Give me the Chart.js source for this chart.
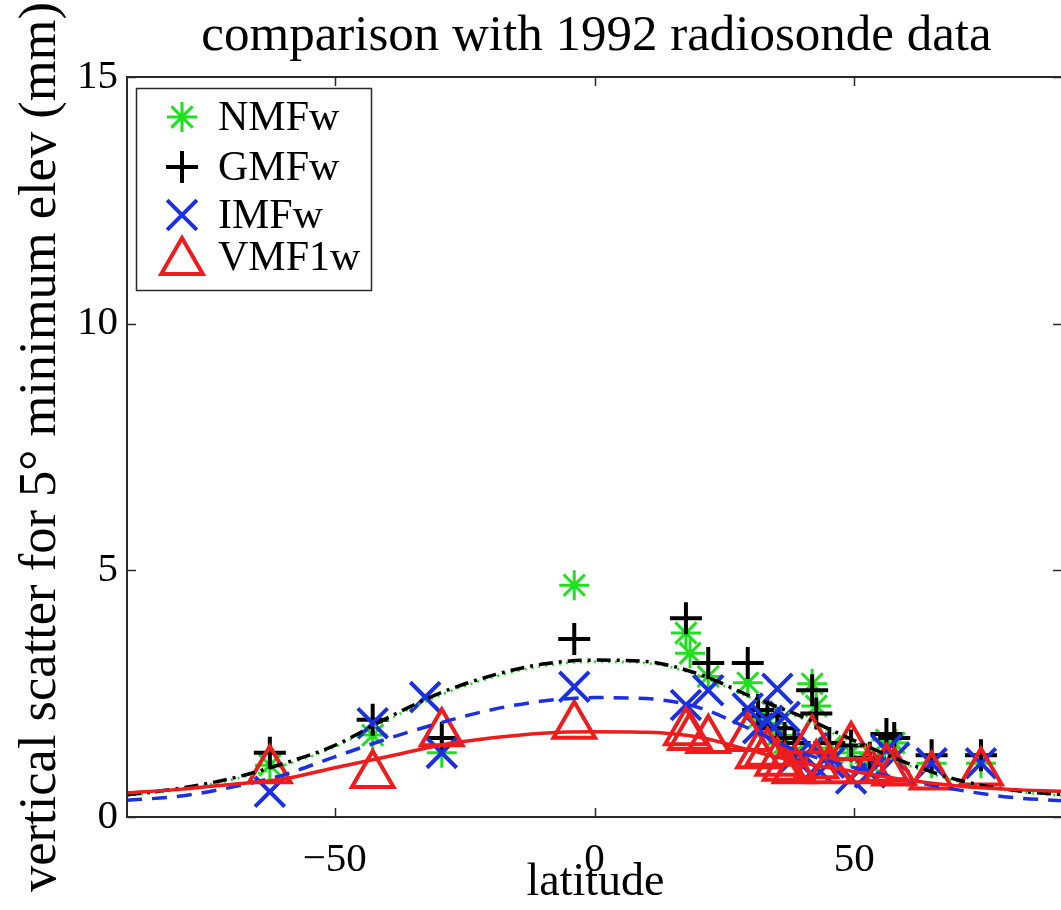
<!DOCTYPE html>
<html>
<head>
<meta charset="utf-8">
<title>comparison with 1992 radiosonde data</title>
<script src="https://cdn.jsdelivr.net/npm/chart.js@4.4.1/dist/chart.umd.min.js"></script>
<style>
  html, body { margin: 0; padding: 0; background: #fff; overflow: hidden; }
  #wrap { width: 1090px; height: 910px; }
</style>
</head>
<body>
<div id="wrap"><canvas id="chart" width="1090" height="910"></canvas></div>
<script>
// station latitudes and scatter per mapping function (null = no marker)
const stationLat = [-62.5, -42.7, -32.6, -29.4, -3.9, 17.6, 18.4, 21.9, 29.5, 31.5, 33.3, 35.2, 36.6, 38.5, 41.9, 42.7, 45.2, 49.4, 53.0, 56.2, 57.7, 64.9, 74.4];
const nmfwScatter  = [1.05, 1.66, null, 1.30, 4.70, 3.73, 3.32, 2.85, 2.72, 2.00, 1.90, 1.65, 1.50, 1.30, 2.70, 2.25, 1.40, 1.30, 1.10, 1.56, 1.50, 1.09, 1.09];
const gmfwScatter  = [1.30, 1.97, null, 1.60, 3.61, 4.03, null, 3.12, 3.12, 2.17, 2.05, 1.80, 1.60, 1.50, 2.57, 2.10, 1.50, 1.45, 1.20, 1.68, 1.60, 1.25, 1.25];
const imfwScatter  = [0.51, 1.90, 2.43, 1.30, 2.64, 2.27, null, 2.57, 2.20, 1.80, 1.95, 2.60, 2.03, 1.20, 1.40, 1.00, 1.10, 0.78, 0.90, 1.36, 1.20, 1.09, 1.09];
const vmf1wScatter = [0.95, 0.85, null, 1.70, 1.85, 1.72, 1.62, 1.56, 1.60, 1.25, 1.30, 1.10, 1.00, 0.95, 1.55, 1.05, 0.95, 1.42, 0.95, 0.98, 0.90, 0.82, 0.90];

// fitted curves vs latitude
const curveLat   = [-90, -80, -70, -60, -50, -40, -30, -20, -10, 0, 10, 20, 30, 40, 50, 60, 70, 80, 90];
const nmfwCurve  = [0.43, 0.55, 0.75, 1.04, 1.42, 1.96, 2.46, 2.82, 3.06, 3.15, 3.12, 2.87, 2.42, 1.99, 1.50, 1.06, 0.72, 0.53, 0.43];
const gmfwCurve  = [0.45, 0.58, 0.78, 1.08, 1.45, 2.00, 2.50, 2.86, 3.10, 3.18, 3.15, 2.90, 2.45, 2.03, 1.55, 1.10, 0.75, 0.55, 0.45];
const imfwCurve  = [0.34, 0.42, 0.60, 0.85, 1.22, 1.58, 1.90, 2.17, 2.35, 2.42, 2.40, 2.22, 1.78, 1.30, 1.00, 0.75, 0.55, 0.40, 0.33];
const vmf1wCurve = [0.49, 0.56, 0.66, 0.77, 1.00, 1.22, 1.45, 1.60, 1.70, 1.73, 1.72, 1.62, 1.35, 1.10, 0.92, 0.75, 0.63, 0.56, 0.52];

const seriesNames = ['NMFw', 'GMFw', 'IMFw', 'VMF1w'];
const xTicks = [-50, 0, 50];
const yTicks = [0, 5, 10, 15];

const GREEN = '#1fe01f', BLACK = '#000000', BLUE = '#1b2fe3', RED = '#ee1c1c';
const SERIF = "'Liberation Serif', 'Times New Roman', serif";

function toPoints(xs, ys) {
    const pts = [];
    xs.forEach((x, i) => {
        if (ys[i] !== null) pts.push({ x: x, y: ys[i] });
    });
    return pts;
}

function markerSet(label, values, color, style, radius, width) {
    return {
        type: 'scatter',
        label: label,
        data: toPoints(stationLat, values),
        pointStyle: style,
        pointRadius: radius,
        pointHoverRadius: radius,
        pointBorderWidth: width,
        borderColor: color,
        pointBorderColor: color,
        backgroundColor: 'rgba(0,0,0,0)',
        pointBackgroundColor: 'rgba(0,0,0,0)',
        isMarker: true
    };
}

function curveSet(label, values, color, dash, width) {
    return {
        type: 'line',
        label: label,
        data: toPoints(curveLat, values),
        borderColor: color,
        borderWidth: width,
        borderDash: dash,
        pointRadius: 0,
        cubicInterpolationMode: 'monotone',
        fill: false
    };
}

// box, inward ticks and the text around the axes
const frameAndText = {
    id: 'frameAndText',
    afterDatasetsDraw(chart) {
        const { ctx, chartArea: a, scales: { x, y } } = chart;
        ctx.save();
        ctx.strokeStyle = '#2a2a2a';
        ctx.lineWidth = 2;
        ctx.strokeRect(a.left, a.top, a.right - a.left, a.bottom - a.top);
        const tl = 9;
        ctx.beginPath();
        xTicks.forEach(v => {
            const px = Math.round(x.getPixelForValue(v)) + 0.5;
            ctx.moveTo(px, a.bottom); ctx.lineTo(px, a.bottom - tl);
            ctx.moveTo(px, a.top); ctx.lineTo(px, a.top + tl);
        });
        yTicks.forEach(v => {
            const py = Math.round(y.getPixelForValue(v)) + 0.5;
            ctx.moveTo(a.left, py); ctx.lineTo(a.left + tl, py);
            ctx.moveTo(a.right, py); ctx.lineTo(a.right - tl, py);
        });
        ctx.lineWidth = 1.5;
        ctx.stroke();

        ctx.fillStyle = '#000';
        const cx = (a.left + a.right) / 2;
        ctx.textAlign = 'center';
        ctx.textBaseline = 'alphabetic';
        ctx.font = '51px ' + SERIF;
        ctx.fillText('comparison with 1992 radiosonde data', cx + 2, 50);
        ctx.font = '46px ' + SERIF;
        ctx.fillText('latitude', cx + 1, 895);

        ctx.translate(55, (a.top + a.bottom) / 2);
        ctx.rotate(-Math.PI / 2);
        ctx.font = '52.5px ' + SERIF;
        ctx.fillText('vertical scatter for 5\u00b0 minimum elev (mm)', 0, 0);
        ctx.restore();
    },
    afterDraw(chart) {
        // legend drawn inside the axes, like the original figure
        const { ctx, chartArea: a } = chart;
        const bx = a.left + 9, by = a.top + 11, bw = 235, bh = 202;
        ctx.save();
        ctx.fillStyle = '#fff';
        ctx.fillRect(bx, by, bw, bh);
        ctx.strokeStyle = '#2a2a2a';
        ctx.lineWidth = 1.5;
        ctx.strokeRect(bx + 0.5, by + 0.5, bw, bh);
        const rows = [29, 79, 127, 169];
        const markers = chart.data.datasets.filter(d => d.isMarker);
        seriesNames.forEach((name, i) => {
            const ds = markers.find(d => d.label === name);
            const yy = by + rows[i];
            ctx.strokeStyle = ds.borderColor;
            ctx.fillStyle = 'rgba(0,0,0,0)';
            ctx.lineWidth = ds.pointBorderWidth;
            Chart.helpers.drawPoint(ctx, {
                pointStyle: ds.pointStyle,
                radius: ds.pointRadius,
                rotation: 0,
                borderWidth: ds.pointBorderWidth
            }, bx + 46, yy + (ds.pointStyle === 'triangle' ? 5 : 0));
            ctx.fillStyle = '#000';
            ctx.font = '42px ' + SERIF;
            ctx.textAlign = 'left';
            ctx.textBaseline = 'middle';
            ctx.fillText(name, bx + 82, yy + 2);
        });
        ctx.restore();
    }
};

new Chart(document.getElementById('chart'), {
    type: 'scatter',
    data: {
        datasets: [
            curveSet('VMF1w fit', vmf1wCurve, RED, [], 3.5),
            curveSet('IMFw fit', imfwCurve, BLUE, [15, 10], 3.5),
            curveSet('GMFw fit', gmfwCurve, BLACK, [14, 6, 3, 6], 3.5),
            curveSet('NMFw fit', nmfwCurve, GREEN, [2, 5], 2.5),
            markerSet('VMF1w', vmf1wScatter, RED, 'triangle', 24, 4),
            markerSet('IMFw', imfwScatter, BLUE, 'crossRot', 21, 4),
            markerSet('GMFw', gmfwScatter, BLACK, 'cross', 16, 4),
            markerSet('NMFw', nmfwScatter, GREEN, 'star', 15, 3)
        ]
    },
    options: {
        responsive: false,
        animation: false,
        devicePixelRatio: 1,
        layout: { padding: { top: 77, right: 16, bottom: 0, left: 0 } },
        plugins: {
            legend: { display: false },
            tooltip: { enabled: false },
            title: { display: false }
        },
        scales: {
            x: {
                type: 'linear',
                min: -90,
                max: 90,
                grid: { display: false, drawTicks: false },
                border: { display: false },
                afterBuildTicks: (scale) => { scale.ticks = xTicks.map(v => ({ value: v })); },
                afterFit: (scale) => { scale.height = 93; scale.paddingLeft = 0; scale.paddingRight = 0; },
                ticks: {
                    padding: 19,
                    color: '#000',
                    font: { family: SERIF, size: 41 },
                    callback: (v) => String(v).replace('-', '\u2212')
                }
            },
            y: {
                type: 'linear',
                min: 0,
                max: 15,
                grid: { display: false, drawTicks: false },
                border: { display: false },
                afterBuildTicks: (scale) => { scale.ticks = yTicks.map(v => ({ value: v })); },
                afterFit: (scale) => { scale.width = 127; scale.paddingTop = 0; scale.paddingBottom = 0; },
                ticks: {
                    padding: 9,
                    color: '#000',
                    font: { family: SERIF, size: 41 }
                }
            }
        }
    },
    plugins: [frameAndText]
});
</script>
</body>
</html>
